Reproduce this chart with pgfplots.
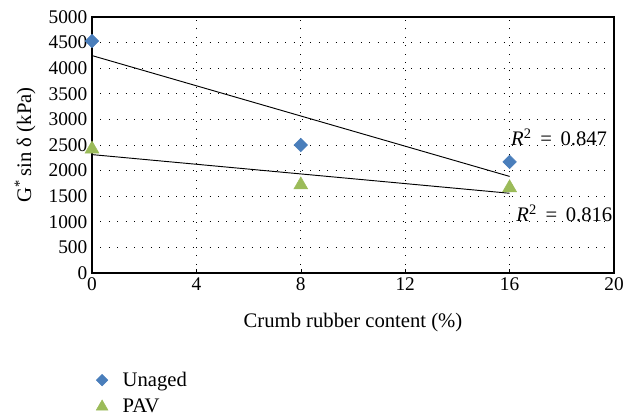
\documentclass[border=0pt]{standalone}
\usepackage{fontspec}
\setmainfont{Liberation Serif}
\usepackage{pgfplots}
\usepackage{pgfplotstable}
\pgfplotsset{compat=1.18}
\definecolor{ublue}{HTML}{4A7EBB}
\definecolor{pgreen}{HTML}{9BBB59}
\pgfplotstableread{
x y
0 4530
8 2500
16 2170
}\unaged
\pgfplotstableread{
x y
0 2420
8 1720
16 1665
}\pav
\begin{document}
\begin{tikzpicture}
\begin{axis}[
  scale only axis,
  width=391.5pt, height=192pt,
  xmin=0, xmax=20, ymin=0, ymax=5000,
  xtick={0,4,...,20}, ytick={0,500,...,5000},
  tick label style={font=\fontsize{14.5}{16}\selectfont},
  label style={font=\fontsize{15.5}{18}\selectfont},
  /pgf/number format/assume math mode=true,
  /pgf/number format/1000 sep={},
  scaled y ticks=false,
  grid=major,
  major grid style={black, line width=0.5pt, dash pattern=on 0.8pt off 5.5pt},
  major tick length=3pt,
  xtick pos=bottom, ytick pos=left,
  ytick style={draw=none},
  xtick style={black, line width=0.4pt},
  tick align=inside,
  axis line style={black, line width=0.8pt},
  xlabel={Crumb rubber content (\%)},
  ylabel={G\textsuperscript{*}\,sin δ (kPa)},
  xlabel style={yshift=-10pt},
  ylabel style={yshift=3pt},
  legend style={at={(rel axis cs:0.005,-0.37)}, anchor=north west, draw=none, fill=none,
    font=\fontsize{15.5}{18}\selectfont, row sep=4pt, inner sep=1pt,
    nodes={inner ysep=2pt}},
  legend image code/.code={\draw[#1, mark size=0.85*\pgfplotmarksize] plot coordinates {(0.25cm,0cm)};},
  legend cell align=left,
  clip=false,
]
\addplot[only marks, mark=square*, mark options={rotate=45}, mark size=3.6pt, color=ublue] table[x=x,y=y]{\unaged};
\addlegendentry{\hspace{9pt}Unaged}
\addplot[only marks, mark=triangle*, mark size=6pt, color=pgreen] table[x=x,y=y]{\pav};
\addlegendentry{\hspace{9pt}PAV}
\addplot[black, line width=0.7pt, forget plot] table[x=x, y={create col/linear regression={y=y}}]{\unaged};
\addplot[black, line width=0.7pt, forget plot] table[x=x, y={create col/linear regression={y=y}}]{\pav};
\node[anchor=south west, inner sep=0pt, font=\fontsize{15.5}{18}\selectfont] at (axis cs:16.05,2480) {\textit{R}\textsuperscript{2} \,=\, 0.847};
\node[anchor=north west, inner sep=0pt, font=\fontsize{15.5}{18}\selectfont] at (axis cs:16.25,1330) {\textit{R}\textsuperscript{2} \,=\, 0.816};
\end{axis}
\pgfresetboundingbox
\path[use as bounding box] (-69pt,-108pt) rectangle (399pt,204.75pt);
\end{tikzpicture}
\end{document}
